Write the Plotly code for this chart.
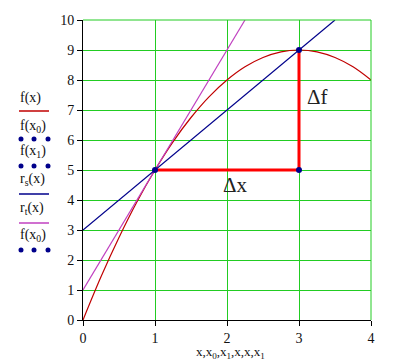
import plotly.graph_objects as go

# Data
fx_x = [0, 0.25, 0.5, 0.75, 1, 1.25, 1.5, 1.75, 2, 2.25, 2.5, 2.75, 3, 3.25, 3.5, 3.75, 4]
fx_y = [0, 1.44, 2.75, 3.94, 5, 5.94, 6.75, 7.44, 8, 8.44, 8.75, 8.94, 9, 8.94, 8.75, 8.44, 8]
secant_x = [0, 3.5]
secant_y = [3, 10]
tangent_x = [0, 2.25]
tangent_y = [1, 10]
delta_x = [1, 3, 3]
delta_y = [5, 5, 9]
pts_x = [1, 3, 3]
pts_y = [5, 9, 5]
x_ticks = [0, 1, 2, 3, 4]
y_ticks = list(range(0, 11))
x_title = "x,x<sub>0</sub>,x<sub>1</sub>,x,x,x<sub>1</sub>"

FONT = "Liberation Serif"
NAVY = "#00008b"
RED_CURVE = "#c00000"
MAGENTA = "#c040c0"
GRID = "#22cc22"

fig = go.Figure()
fig.add_trace(go.Scatter(x=fx_x, y=fx_y, mode="lines", line=dict(color=RED_CURVE, width=1.2), line_shape="spline"))
fig.add_trace(go.Scatter(x=tangent_x, y=tangent_y, mode="lines", line=dict(color=MAGENTA, width=1.2)))
fig.add_trace(go.Scatter(x=secant_x, y=secant_y, mode="lines", line=dict(color=NAVY, width=1.2)))
fig.add_trace(go.Scatter(x=delta_x, y=delta_y, mode="lines", line=dict(color="#ff0000", width=3)))
fig.add_trace(go.Scatter(x=pts_x, y=pts_y, mode="markers", marker=dict(color=NAVY, size=6)))

fig.add_annotation(x=2.12, y=4.5, text="Δx", showarrow=False, font=dict(family=FONT, size=21, color="#222"))
fig.add_annotation(x=3.25, y=7.42, text="Δf", showarrow=False, font=dict(family=FONT, size=21, color="#222"))

# legend (Mathcad style) drawn at the left
L, T = 83, 20
W, H = 288, 300
def px(x):
    return (x - L) / W
def py(y):
    return (T + H - y) / H

fig.add_annotation(xref="paper", yref="paper", x=px(230), y=py(352), xanchor="center", yanchor="middle",
                   text=x_title, showarrow=False, font=dict(family=FONT, size=13, color="#111"))

legend_rows = [
    ("f(x)", 98, "line", RED_CURVE, 111),
    ("f(x<sub>0</sub>)", 126, "dots", NAVY, 139),
    ("f(x<sub>1</sub>)", 152, "dots", NAVY, 166),
    ("r<sub>s</sub>(x)", 179, "line", NAVY, 194),
    ("r<sub>t</sub>(x)", 208, "line", MAGENTA, 223),
    ("f(x<sub>0</sub>)", 235, "dots", NAVY, 250),
]
shapes = [
    dict(type="line", xref="paper", yref="paper", x0=0, x1=1, y0=1, y1=1, line=dict(color=GRID, width=1)),
    dict(type="line", xref="paper", yref="paper", x0=1, x1=1, y0=0, y1=1, line=dict(color=GRID, width=1)),
]
for text, ty, kind, col, sy in legend_rows:
    fig.add_annotation(xref="paper", yref="paper", x=px(18), y=py(ty), xanchor="left", yanchor="middle",
                       text=text, showarrow=False, font=dict(family=FONT, size=14, color="#111"))
    if kind == "line":
        shapes.append(dict(type="line", xref="paper", yref="paper", x0=px(19), x1=px(49), y0=py(sy), y1=py(sy),
                           line=dict(color=col, width=1.5)))
    else:
        for cx in (21, 34, 48):
            shapes.append(dict(type="circle", xref="paper", yref="paper", xsizemode="pixel", ysizemode="pixel",
                               xanchor=px(cx), yanchor=py(sy), x0=-2.5, x1=2.5, y0=-2.5, y1=2.5,
                               fillcolor=col, line=dict(width=0)))

fig.update_layout(
    width=398, height=362,
    margin=dict(l=L, r=398 - L - W, t=T, b=362 - T - H),
    paper_bgcolor="white", plot_bgcolor="white",
    showlegend=False,
    shapes=shapes,
    font=dict(family=FONT, size=14, color="#111"),
    xaxis=dict(range=[0, 4], tickvals=x_ticks, showgrid=True, gridcolor=GRID, gridwidth=1,
               zeroline=False, showline=True, linecolor="black", linewidth=1, ticks="outside",
               ticklen=5, tickcolor="black", tickfont=dict(family=FONT, size=14), automargin=False),
    yaxis=dict(range=[0, 10], tickvals=y_ticks, showgrid=True, gridcolor=GRID, gridwidth=1,
               zeroline=False, showline=True, linecolor="black", linewidth=1, ticks="outside",
               ticklen=5, tickcolor="black", tickfont=dict(family=FONT, size=14), automargin=False),
)

fig.write_html("out.html")
